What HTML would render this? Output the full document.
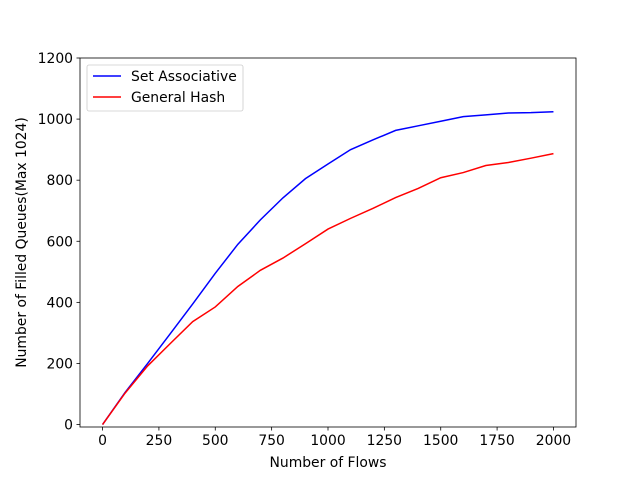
<!DOCTYPE html>
<html><head><meta charset="utf-8"><style>
body{margin:0;background:#fff}
svg text{font-family:"DejaVu Sans","Liberation Sans",sans-serif;font-size:13.9px;fill:#000}
</style></head><body>
<svg id="chart" width="640" height="480" xmlns="http://www.w3.org/2000/svg">
<rect width="640" height="480" fill="#fff"/>
<g id="plot"></g>
</svg>
<script>
const xs=[0,100,200,300,400,500,600,700,800,900,1000,1100,1200,1300,1400,1500,1600,1700,1800,1900,2000];
const setAssoc=[0,105,200,297,395,495,590,670,742,805,853,900,932,963,978,993,1008,1014,1020,1021,1024];
const genHash=[0,103,192,265,337,385,452,505,545,592,640,675,708,743,773,808,825,848,858,872,887];
const xTicks=[0,250,500,750,1000,1250,1500,1750,2000];
const yTicks=[0,200,400,600,800,1000,1200];
const L=80,R=576,T=58,B=427,xmin=-100,xmax=2100,ymin=-8,ymax=1200;
const X=v=>L+(v-xmin)/(xmax-xmin)*(R-L);
const Y=v=>B-(v-ymin)/(ymax-ymin)*(B-T);
const NS="http://www.w3.org/2000/svg";
const g=document.getElementById('plot');
function mk(t,a,txt){const e=document.createElementNS(NS,t);for(const k in a)e.setAttribute(k,a[k]);if(txt!==undefined)e.textContent=txt;g.appendChild(e);return e;}
function series(vals,color,name){
  const d=xs.map((x,i)=>(i?'L':'M')+X(x).toFixed(2)+','+Y(vals[i]).toFixed(2)).join('');
  const p=mk('path',{d:d,fill:'none',stroke:color,'stroke-width':1.5});
  
  
}
series(setAssoc,'#0000ff','set-associative-line');
series(genHash,'#ff0000','general-hash-line');
const frame=mk('rect',{x:L,y:T,width:R-L,height:B-T,fill:'none',stroke:'#000','stroke-width':0.8});


xTicks.forEach(v=>{
  mk('line',{x1:X(v),x2:X(v),y1:B,y2:B+3.5,stroke:'#000','stroke-width':0.8});
  const t=mk('text',{x:X(v),y:B+18,'text-anchor':'middle'},v);
  
  
});
yTicks.forEach(v=>{
  mk('line',{x1:L-3.5,x2:L,y1:Y(v),y2:Y(v),stroke:'#000','stroke-width':0.8});
  const t=mk('text',{x:L-7,y:Y(v)+5,'text-anchor':'end'},v);
  
  
});
const xt=mk('text',{x:(L+R)/2,y:467,'text-anchor':'middle'},'Number of Flows');


const yt=mk('text',{x:0,y:0,'text-anchor':'middle',transform:`translate(26,${(T+B)/2}) rotate(-90)`},'Number of Filled Queues(Max 1024)');


const lg=mk('rect',{x:87,y:65,width:156,height:46,rx:2,fill:'#fff',stroke:'#ccc','stroke-width':0.8});


[['Set Associative','#0000ff',76],['General Hash','#ff0000',97]].forEach(([n,c,y])=>{
  mk('line',{x1:93,x2:121,y1:y,y2:y,stroke:c,'stroke-width':1.5});
  const t=mk('text',{x:131,y:y+5},n);
  
  
});
</script>
</body></html>
